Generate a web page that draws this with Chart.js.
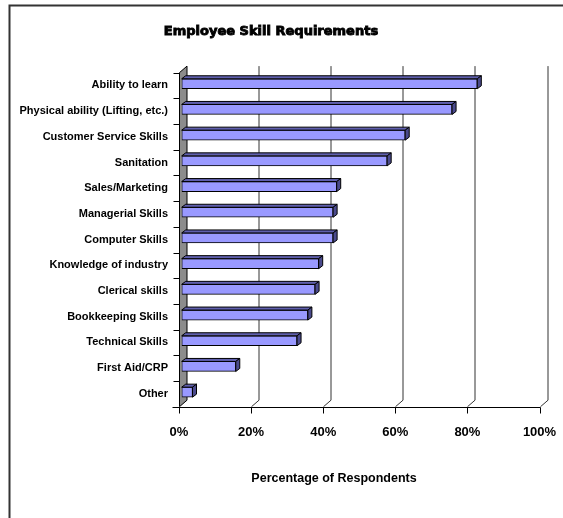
<!DOCTYPE html>
<html>
<head>
<meta charset="utf-8">
<script src="https://cdn.jsdelivr.net/npm/chart.js@4/dist/chart.umd.min.js"></script>
<style>
  html, body { margin: 0; padding: 0; background: #fff; }
  #wrap { width: 563px; height: 518px; position: relative; }
</style>
</head>
<body>
<div id="wrap"><canvas id="c" width="563" height="518"></canvas></div>
<script>
// Skills asked of employees, share of respondents (%)
const skills = [
  'Ability to learn',
  'Physical ability (Lifting, etc.)',
  'Customer Service Skills',
  'Sanitation',
  'Sales/Marketing',
  'Managerial Skills',
  'Computer Skills',
  'Knowledge of industry',
  'Clerical skills',
  'Bookkeeping Skills',
  'Technical Skills',
  'First Aid/CRP',
  'Other'
];
const respondentShare = [82, 75, 62, 57, 43, 42, 42, 38, 37, 35, 32, 15, 3];
const percentTicks = [0, 20, 40, 60, 80, 100];

const chartTitle = 'Employee Skill Requirements';
const axisTitle = 'Percentage of Respondents';

// depth of the floor/wall and of each bar
const WALL_DX = 7.5, WALL_DY = 6.5;
const BAR_SHIFT_X = 2.7, BAR_SHIFT_Y = -1.7;
const BAR_DX = 4, BAR_DY = 3;

const frameAndWall = {
  id: 'frameAndWall',
  beforeDatasetsDraw(chart) {
    const { ctx, chartArea: a, scales: { x } } = chart;
    ctx.save();

    // outer frame
    ctx.strokeStyle = '#333';
    ctx.lineWidth = 2;
    ctx.beginPath();
    ctx.moveTo(9.5, 600);
    ctx.lineTo(9.5, 5.5);
    ctx.lineTo(600, 5.5);
    ctx.stroke();

    // title, heavy face
    ctx.fillStyle = '#000';
    ctx.strokeStyle = '#000';
    ctx.lineWidth = 0.9;
    ctx.font = 'bold 13px "DejaVu Sans"';
    ctx.textAlign = 'center';
    ctx.textBaseline = 'middle';
    ctx.fillText(chartTitle, 271, 32);
    ctx.strokeText(chartTitle, 271, 32);

    // axis title
    ctx.font = 'bold 12.5px "Liberation Sans"';
    ctx.fillText(axisTitle, 334, 479);

    // back gridlines folding down onto the floor
    ctx.lineWidth = 1;
    ctx.strokeStyle = '#333';
    percentTicks.forEach(v => {
      if (v === 0) return;
      const px = Math.round(x.getPixelForValue(v)) + 0.5;
      ctx.beginPath();
      ctx.moveTo(px + WALL_DX, a.top - WALL_DY);
      ctx.lineTo(px + WALL_DX, a.bottom - WALL_DY);
      ctx.lineTo(px, a.bottom);
      ctx.stroke();
    });

    // side wall
    const l = Math.round(a.left) + 0.5;
    ctx.fillStyle = '#8c8c8c';
    ctx.strokeStyle = '#000';
    ctx.beginPath();
    ctx.moveTo(l, a.top);
    ctx.lineTo(l + WALL_DX, a.top - WALL_DY);
    ctx.lineTo(l + WALL_DX, a.bottom - WALL_DY);
    ctx.lineTo(l, a.bottom);
    ctx.closePath();
    ctx.fill();
    ctx.stroke();

    // category axis with tick marks between rows
    const n = skills.length;
    const band = (a.bottom - a.top) / n;
    ctx.beginPath();
    for (let k = 0; k < n; k++) {
      const yy = Math.round(a.top + k * band) + 0.5;
      ctx.moveTo(l - 6, yy);
      ctx.lineTo(l, yy);
    }
    ctx.stroke();

    // value axis along the front of the floor
    const b = Math.round(a.bottom) + 0.5;
    ctx.beginPath();
    ctx.moveTo(l - 7, b);
    ctx.lineTo(Math.round(a.right) + 0.5, b);
    percentTicks.forEach(v => {
      const px = Math.round(x.getPixelForValue(v)) + 0.5;
      ctx.moveTo(px, b);
      ctx.lineTo(px, b + 6);
    });
    ctx.stroke();
    ctx.restore();

    // bars sit a little inside the depth
    ctx.save();
    ctx.translate(BAR_SHIFT_X, BAR_SHIFT_Y);
  },
  afterDatasetsDraw(chart) {
    const { ctx } = chart;
    const meta = chart.getDatasetMeta(0);
    ctx.lineWidth = 1;
    ctx.strokeStyle = '#000';
    meta.data.forEach(bar => {
      const { x, y, base, height } = bar.getProps(['x', 'y', 'base', 'height'], true);
      const left = base, right = x, top = y - height / 2, bottom = y + height / 2;
      // top face
      ctx.fillStyle = '#5f5fae';
      ctx.beginPath();
      ctx.moveTo(left, top);
      ctx.lineTo(left + BAR_DX, top - BAR_DY);
      ctx.lineTo(right + BAR_DX, top - BAR_DY);
      ctx.lineTo(right, top);
      ctx.closePath();
      ctx.fill();
      ctx.stroke();
      // end face
      ctx.fillStyle = '#4a4a8c';
      ctx.beginPath();
      ctx.moveTo(right, top);
      ctx.lineTo(right + BAR_DX, top - BAR_DY);
      ctx.lineTo(right + BAR_DX, bottom - BAR_DY);
      ctx.lineTo(right, bottom);
      ctx.closePath();
      ctx.fill();
      ctx.stroke();
    });
    ctx.restore();
  }
};

new Chart(document.getElementById('c'), {
  type: 'bar',
  data: {
    labels: skills,
    datasets: [{
      data: respondentShare,
      backgroundColor: '#9999ff',
      borderColor: '#000',
      borderWidth: 1,
      borderSkipped: false,
      barThickness: 10
    }]
  },
  options: {
    indexAxis: 'y',
    responsive: false,
    animation: false,
    events: [],
    layout: { padding: { left: 10, right: 23.5, top: 72.6, bottom: 71.3 } },
    plugins: {
      legend: { display: false },
      title: { display: false },
      tooltip: { enabled: false }
    },
    scales: {
      x: {
        min: 0,
        max: 100,
        afterFit(s) { s.height = 40; s.paddingLeft = 0; s.paddingRight = 0; },
        afterBuildTicks(s) { s.ticks = percentTicks.map(v => ({ value: v })); },
        grid: { display: false, drawTicks: false },
        border: { display: false },
        ticks: {
          padding: 18,
          color: '#000',
          font: { family: 'Liberation Sans', weight: 'bold', size: 13 },
          callback: v => v + '%'
        }
      },
      y: {
        afterFit(s) { s.width = 169; s.paddingTop = 0; s.paddingBottom = 0; },
        grid: { display: false, drawTicks: false },
        border: { display: false },
        ticks: {
          padding: 11,
          color: '#000',
          autoSkip: false,
          font: { family: 'Liberation Sans', weight: 'bold', size: 11 }
        }
      }
    }
  },
  plugins: [frameAndWall]
});
</script>
</body>
</html>
